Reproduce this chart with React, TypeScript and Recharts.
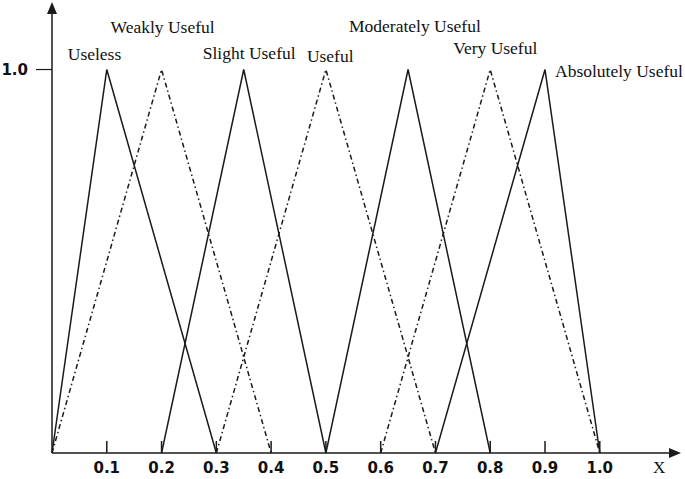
import { Line, LineChart, XAxis, YAxis } from "recharts";

// triangular fuzzy numbers (a, b, c) for each linguistic term
const terms = ["Useless", "Weakly Useful", "Slight Useful", "Useful", "Moderately Useful", "Very Useful", "Absolutely Useful"];
const lows = [0, 0, 0.2, 0.3, 0.5, 0.6, 0.7];
const peaks = [0.1, 0.2, 0.35, 0.5, 0.65, 0.8, 0.9];
const highs = [0.3, 0.4, 0.5, 0.7, 0.8, 1.0, 1.0];
const xTicks = [0.1, 0.2, 0.3, 0.4, 0.5, 0.6, 0.7, 0.8, 0.9, 1.0];
const yTicks = [1.0];

// styling per term: dashed lines and label offsets relative to the peak
const dashed = [false, true, false, true, false, true, false];
const labelDx = [-39, -51, -41, -19, -59, -37, 10];
const labelDy = [-10, -37, -11, -8, -38, -16, 7];

const INK = "#1a1a1a";
const SERIF = "'Liberation Serif', 'Times New Roman', serif";
const SANS = "'DejaVu Sans', Verdana, sans-serif";

const series = terms.map((name, i) => ({
  name,
  points: [
    { x: lows[i], y: 0 },
    { x: peaks[i], y: 1 },
    { x: highs[i], y: 0 },
  ],
}));

function XTick({ x, y, payload }: any) {
  return (
    <g>
      <line x1={x} y1={y} x2={x} y2={y - 12} stroke={INK} strokeWidth={1.5} />
      <text x={x} y={y + 20} textAnchor="middle" fontFamily={SANS} fontWeight="bold" fontSize={15} fill="#111">
        {Number(payload.value).toFixed(1)}
      </text>
    </g>
  );
}

function makePeakLabel(i: number) {
  return (props: any) => {
    const { cx, cy, index } = props;
    if (index !== 1) return <g key={`d-${i}-${index}`} />;
    return (
      <text key={`d-${i}-${index}`} x={cx + labelDx[i]} y={cy + labelDy[i]} fontFamily={SERIF} fontSize={17.5} fill="#111">
        {terms[i]}
      </text>
    );
  };
}

export default function App() {
  return (
    <div style={{ position: "absolute", left: 0, top: 0, width: 685, height: 479, background: "#fff" }}>
      <svg width={0} height={0} style={{ position: "absolute" }}>
        <defs>
          <marker id="axis-arrow" viewBox="0 0 12 12" refX={2} refY={6} markerWidth={12} markerHeight={12} markerUnits="userSpaceOnUse" orient="auto-start-reverse">
            <path d="M0,1 L12,6 L0,11 z" fill={INK} />
          </marker>
        </defs>
      </svg>
      <LineChart width={685} height={479} margin={{ top: 12, right: 14, bottom: 0, left: 0 }}>
        <XAxis
          type="number"
          dataKey="x"
          domain={[0, 1.13]}
          ticks={xTicks}
          allowDuplicatedCategory={false}
          height={26}
          tickSize={0}
          tickMargin={0}
          tickLine={false}
          tick={<XTick />}
          axisLine={{ stroke: INK, strokeWidth: 1.5, markerEnd: "url(#axis-arrow)" }}
          label={{
            content: (p: any) => (
              <text x={p.viewBox.x + p.viewBox.width - 18} y={p.viewBox.y + 20} fontFamily={SERIF} fontSize={17} fill="#111">
                X
              </text>
            ),
          }}
        />
        <YAxis
          type="number"
          domain={[0, 1.15]}
          ticks={yTicks}
          width={52}
          tickSize={16}
          tickMargin={8}
          tickFormatter={(v: number) => v.toFixed(1)}
          tick={{ fontFamily: SANS, fontWeight: "bold", fontSize: 15, fill: "#111" }}
          tickLine={{ stroke: INK, strokeWidth: 1.2 }}
          axisLine={{ stroke: INK, strokeWidth: 1.5, markerStart: "url(#axis-arrow)" }}
        />
        {series.map((s, i) => (
          <Line
            key={s.name}
            name={s.name}
            data={s.points}
            dataKey="y"
            type="linear"
            stroke={INK}
            strokeWidth={1.5}
            strokeDasharray={dashed[i] ? "5 3 1.5 3" : undefined}
            dot={makePeakLabel(i)}
            activeDot={false}
            isAnimationActive={false}
          />
        ))}
      </LineChart>
    </div>
  );
}
